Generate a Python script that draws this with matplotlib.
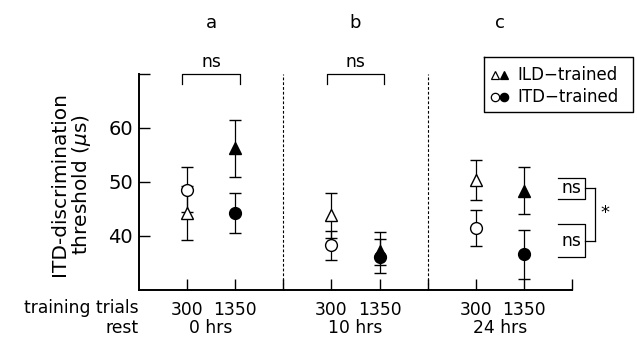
import matplotlib
matplotlib.use("Agg")
import matplotlib.pyplot as plt
import numpy as np

# values (threshold in microseconds)
panels = ["a", "b", "c"]
rest_labels = ["0 hrs", "10 hrs", "24 hrs"]
trial_labels = ["300", "1350", "300", "1350", "300", "1350"]

ild_mean = [44.2, 56.2, 43.8, 37.3, 50.4, 48.4]
ild_lo = [39.2, 50.9, 39.6, 33.2, 46.7, 44.1]
ild_hi = [49.2, 61.4, 48.0, 40.7, 54.1, 52.7]

itd_mean = [48.6, 44.3, 38.3, 36.1, 41.5, 36.6]
itd_lo = [44.5, 40.6, 35.6, 34.6, 38.2, 32.0]
itd_hi = [52.7, 47.9, 40.9, 39.4, 44.8, 41.2]

# x slots: two conditions per panel, a gap slot between panels
xpos = np.array([3 * g + 1 + k for g in range(3) for k in range(2)])
filled = [False, True] * 3

plt.rcParams["font.family"] = "DejaVu Sans"
fig = plt.figure(figsize=(6.37, 3.37), dpi=100)
ax = fig.add_axes([0.2177, 0.1395, 0.681, 0.641])

fs = 12.3
lw = 0.9
for x, m, lo, hi, f in zip(xpos, itd_mean, itd_lo, itd_hi, filled):
    ax.errorbar(x, m, yerr=[[m - lo], [hi - m]], fmt="o", ms=8.5, mec="black",
                mfc="black" if f else "white", mew=1.0, ecolor="black",
                elinewidth=lw, capsize=4, capthick=lw, zorder=3)
for x, m, lo, hi, f in zip(xpos, ild_mean, ild_lo, ild_hi, filled):
    ax.errorbar(x, m, yerr=[[m - lo], [hi - m]], fmt="^", ms=9, mec="black",
                mfc="black" if f else "white", mew=1.0, ecolor="black",
                elinewidth=lw, capsize=4, capthick=lw, zorder=3)

ax.set_xlim(0, 9)
ax.set_ylim(30, 70)
for s in ["top", "right"]:
    ax.spines[s].set_visible(False)
ax.spines["left"].set_linewidth(1.4)
ax.spines["bottom"].set_linewidth(1.4)

ax.set_yticks([40, 50, 60, 70])
ax.set_yticklabels(["40", "50", "60", ""])
ax.set_xticks(range(1, 10))
ax.set_xticklabels(trial_labels[:2] + [""] + trial_labels[2:4] + [""] + trial_labels[4:] + [""])
ax.tick_params(axis="both", direction="in", length=8, width=1.0, colors="black")
ax.tick_params(axis="x", pad=8, labelsize=fs)
ax.tick_params(axis="y", pad=4, labelsize=14)

# dashed separators between panels
for xd in [3, 6]:
    ax.plot([xd, xd], [30, 70], ls=(0, (2.5, 1.8)), color="black", lw=0.8)

# ylabel
ax.text(-0.155, 0.49, "ITD-discrimination\nthreshold ($\\mu$s)", transform=ax.transAxes,
        rotation=90, ha="center", va="center", multialignment="center",
        fontsize=14.5, linespacing=1.05)

# row labels under the axis
ax.text(0, 26.6, "training trials", ha="right", va="center", fontsize=fs, clip_on=False)
ax.text(0, 22.9, "rest", ha="right", va="center", fontsize=fs, clip_on=False)
for g in range(3):
    ax.text(3 * g + 1.5, 22.9, rest_labels[g], ha="center", va="center", fontsize=fs, clip_on=False)
    ax.text(3 * g + 1.5, 79.4, panels[g], ha="center", va="center", fontsize=13, clip_on=False)

# "ns" brackets over panels a and b
for g in range(2):
    x0, x1 = 3 * g + 0.9, 3 * g + 2.1
    ax.plot([x0, x0, x1, x1], [68.1, 70, 70, 68.1], color="black", lw=0.9, clip_on=False)
    ax.text((x0 + x1) / 2, 70.6, "ns", ha="center", va="bottom", fontsize=fs)

# panel c comparison boxes
for top, bot, mid in [(50.8, 46.8, 48.8), (42.2, 36.1, 39.1)]:
    ax.plot([8.69, 9.27, 9.27, 8.69], [top, top, bot, bot], color="black", lw=0.9, clip_on=False)
    ax.text(8.98, mid, "ns", ha="center", va="center", fontsize=fs)
    ax.plot([9.27, 9.47], [mid, mid], color="black", lw=0.9, clip_on=False)
ax.plot([9.47, 9.47], [48.8, 39.1], color="black", lw=0.9, clip_on=False)
ax.text(9.67, 44.2, "*", ha="center", va="center", fontsize=13, clip_on=False)

# legend box drawn by hand
ax.plot([7.16, 10.26, 10.26, 7.16, 7.16], [73.1, 73.1, 62.9, 62.9, 73.1], color="black",
        lw=1.0, clip_on=False)
ax.plot([7.39], [69.8], "^", ms=6, mfc="white", mec="black", mew=0.9, clip_on=False)
ax.plot([7.58], [69.8], "^", ms=6, mfc="black", mec="black", mew=0.9, clip_on=False)
ax.plot([7.39], [65.7], "o", ms=6, mfc="white", mec="black", mew=0.9, clip_on=False)
ax.plot([7.58], [65.7], "o", ms=6, mfc="black", mec="black", mew=0.9, clip_on=False)
ax.text(7.85, 69.8, "ILD\u2212trained", ha="left", va="center", fontsize=12, clip_on=False)
ax.text(7.85, 65.7, "ITD\u2212trained", ha="left", va="center", fontsize=12, clip_on=False)

fig.savefig("out.png", dpi=100)
